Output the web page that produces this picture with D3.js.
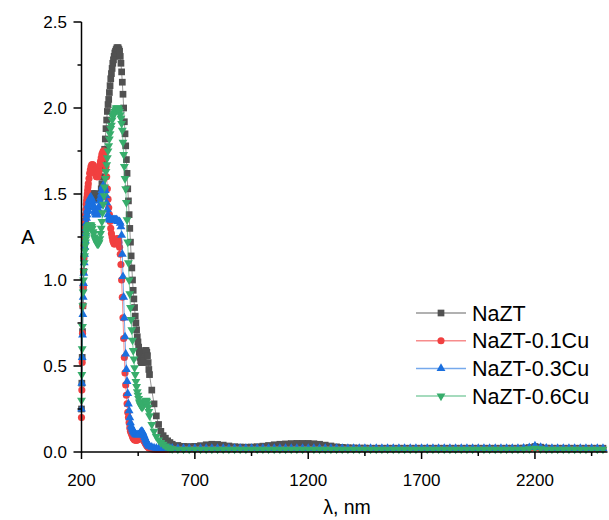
<!DOCTYPE html>
<html><head><meta charset="utf-8">
<script src="https://cdn.jsdelivr.net/npm/d3@7"></script>
<style>body{margin:0;background:#fff}svg{display:block}text{font-family:"Liberation Sans",Arial,sans-serif;fill:#000}</style>
</head><body><svg id="c" width="609" height="520"></svg>
<script>
// x sample grid (nm)
const wavelengths = [...d3.range(200, 230, 1.5), ...d3.range(230, 500, 3), ...d3.range(500, 600, 10), ...d3.range(600, 2501, 25)];
const seriesNames = ["NaZT", "NaZT-0.1Cu", "NaZT-0.3Cu", "NaZT-0.6Cu"];
const seriesColors = ["#515151", "#F14040", "#1A6FDF", "#37AD6B"];
const xTicks = [200, 700, 1200, 1700, 2200];
const yTicks = [0, 0.5, 1.0, 1.5, 2.0, 2.5];

const nazt = [
0.25,0.4,0.55,0.7,0.85,0.96,1.05,1.13,1.2,1.24,
1.28,1.31,1.34,1.36,1.38,1.4,1.41,1.42,1.43,1.44,
1.45,1.46,1.47,1.48,1.49,1.5,1.5,1.5,1.5,1.5,
1.5,1.5,1.49,1.48,1.47,1.47,1.47,1.48,1.5,1.53,
1.56,1.6,1.65,1.7,1.76,1.82,1.88,1.93,1.98,2.02,
2.05,2.09,2.13,2.17,2.2,2.23,2.26,2.28,2.3,2.32,
2.33,2.34,2.35,2.35,2.35,2.34,2.33,2.3,2.26,2.21,
2.15,2.08,2.0,1.92,1.85,1.78,1.7,1.62,1.53,1.46,
1.38,1.3,1.22,1.14,1.07,1.0,0.94,0.89,0.84,0.79,
0.75,0.71,0.67,0.64,0.61,0.58,0.55,0.53,0.52,0.52,
0.53,0.55,0.57,0.58,0.59,0.59,0.58,0.56,0.52,0.48,
0.45,0.36,0.28,0.21,0.16,0.12,0.095,0.08,0.065,0.055,
0.045,0.038,0.033,0.032,0.033,0.037,0.042,0.045,0.044,0.04,
0.035,0.031,0.029,0.028,0.029,0.031,0.034,0.038,0.042,0.045,
0.047,0.049,0.05,0.05,0.05,0.048,0.045,0.04,0.035,0.03,
0.027,0.025,0.024,0.023,0.023,0.022,0.022,0.022,0.022,0.022,
0.022,0.022,0.022,0.022,0.022,0.022,0.022,0.022,0.022,0.022,
0.022,0.022,0.022,0.022,0.022,0.022,0.022,0.022,0.022,0.022,
0.022,0.022,0.023,0.026,0.032,0.028,0.023,0.022,0.022,0.022,
0.022,0.022,0.022,0.022,0.022,0.022,0.022];

const nazt01 = [
0.2,0.36,0.52,0.69,0.85,0.96,1.05,1.13,1.2,1.25,
1.3,1.34,1.38,1.41,1.44,1.46,1.48,1.5,1.52,1.54,
1.56,1.59,1.62,1.64,1.66,1.67,1.67,1.67,1.66,1.64,
1.62,1.61,1.6,1.6,1.6,1.62,1.64,1.67,1.69,1.71,
1.73,1.74,1.75,1.75,1.74,1.71,1.66,1.6,1.53,1.47,
1.42,1.38,1.34,1.3,1.27,1.25,1.23,1.22,1.21,1.21,
1.22,1.23,1.24,1.24,1.24,1.22,1.19,1.15,1.09,1.0,
0.9,0.78,0.66,0.55,0.46,0.39,0.33,0.28,0.23,0.2,
0.17,0.14,0.12,0.11,0.1,0.09,0.08,0.075,0.07,0.07,
0.068,0.068,0.07,0.072,0.075,0.078,0.08,0.082,0.082,0.08,
0.076,0.07,0.064,0.057,0.05,0.043,0.037,0.032,0.028,0.025,
0.022,0.018,0.016,0.015,0.015,0.015,0.015,0.015,0.016,0.017,
0.018,0.017,0.017,0.017,0.017,0.017,0.017,0.017,0.017,0.017,
0.017,0.017,0.017,0.017,0.017,0.017,0.017,0.017,0.017,0.017,
0.017,0.017,0.017,0.017,0.017,0.017,0.017,0.017,0.017,0.017,
0.017,0.017,0.017,0.017,0.017,0.017,0.017,0.017,0.017,0.017,
0.017,0.017,0.017,0.017,0.017,0.017,0.017,0.017,0.017,0.017,
0.017,0.017,0.017,0.017,0.017,0.017,0.017,0.017,0.017,0.017,
0.017,0.017,0.017,0.018,0.022,0.019,0.017,0.017,0.017,0.017,
0.017,0.017,0.017,0.017,0.017,0.017,0.017];

const nazt03 = [
0.25,0.4,0.55,0.68,0.8,0.9,0.98,1.04,1.1,1.15,
1.19,1.23,1.27,1.3,1.33,1.36,1.38,1.4,1.41,1.43,
1.44,1.46,1.47,1.48,1.48,1.47,1.46,1.44,1.42,1.4,
1.39,1.38,1.38,1.38,1.39,1.41,1.43,1.46,1.48,1.5,
1.52,1.54,1.55,1.55,1.54,1.52,1.49,1.45,1.41,1.38,
1.36,1.35,1.35,1.35,1.35,1.35,1.35,1.35,1.35,1.35,
1.35,1.35,1.35,1.34,1.34,1.34,1.34,1.33,1.31,1.26,
1.15,1.02,0.9,0.78,0.67,0.57,0.48,0.41,0.34,0.28,
0.24,0.2,0.17,0.15,0.14,0.13,0.12,0.115,0.11,0.105,
0.1,0.1,0.1,0.1,0.1,0.105,0.11,0.115,0.12,0.12,
0.115,0.105,0.095,0.085,0.075,0.065,0.055,0.048,0.042,0.037,
0.034,0.028,0.024,0.022,0.021,0.021,0.021,0.021,0.021,0.021,
0.022,0.021,0.021,0.021,0.021,0.021,0.021,0.021,0.021,0.021,
0.021,0.021,0.021,0.021,0.021,0.021,0.021,0.021,0.021,0.021,
0.021,0.021,0.021,0.021,0.021,0.021,0.021,0.021,0.021,0.021,
0.021,0.021,0.021,0.021,0.021,0.021,0.021,0.021,0.021,0.021,
0.021,0.021,0.021,0.021,0.021,0.021,0.021,0.021,0.021,0.021,
0.021,0.021,0.021,0.021,0.021,0.021,0.021,0.021,0.021,0.021,
0.021,0.021,0.022,0.026,0.035,0.027,0.022,0.021,0.021,0.021,
0.021,0.021,0.021,0.021,0.021,0.021,0.021];

const nazt06 = [
0.3,0.45,0.6,0.73,0.85,0.93,1.0,1.05,1.1,1.14,
1.17,1.2,1.22,1.24,1.26,1.28,1.29,1.3,1.3,1.31,
1.31,1.32,1.32,1.32,1.32,1.31,1.3,1.28,1.27,1.25,
1.24,1.23,1.22,1.21,1.21,1.21,1.22,1.24,1.27,1.3,
1.34,1.39,1.44,1.49,1.54,1.59,1.63,1.67,1.71,1.75,
1.78,1.82,1.85,1.88,1.9,1.93,1.95,1.96,1.97,1.98,
1.99,2.0,2.0,2.0,2.0,1.99,1.98,1.96,1.94,1.91,
1.87,1.8,1.73,1.66,1.59,1.53,1.45,1.35,1.22,1.1,
1.0,0.92,0.84,0.77,0.71,0.65,0.59,0.54,0.49,0.45,
0.41,0.38,0.35,0.33,0.31,0.29,0.28,0.27,0.265,0.26,
0.265,0.27,0.28,0.29,0.295,0.3,0.295,0.28,0.26,0.235,
0.21,0.16,0.12,0.09,0.07,0.055,0.045,0.035,0.028,0.022,
0.018,0.016,0.016,0.016,0.016,0.016,0.016,0.016,0.016,0.016,
0.016,0.016,0.016,0.016,0.016,0.016,0.016,0.016,0.016,0.016,
0.016,0.016,0.016,0.016,0.016,0.016,0.016,0.016,0.016,0.016,
0.016,0.016,0.016,0.016,0.016,0.016,0.016,0.016,0.016,0.016,
0.016,0.016,0.016,0.016,0.016,0.016,0.016,0.016,0.016,0.016,
0.016,0.016,0.016,0.016,0.016,0.016,0.016,0.016,0.016,0.016,
0.016,0.016,0.016,0.018,0.022,0.018,0.016,0.016,0.016,0.016,
0.016,0.016,0.016,0.016,0.016,0.016,0.016];

const seriesValues = [nazt, nazt01, nazt03, nazt06];
const symbols = [d3.symbolSquare, d3.symbolCircle, d3.symbolTriangle, d3.symbolTriangle];
const symSizes = [45, 40, 34, 34];
const symRot = [0, 0, 0, 180];

const svg = d3.select("#c");
const x = d3.scaleLinear().domain([200, 2520]).range([81.5, 607.5]);
const y = d3.scaleLinear().domain([0, 2.5]).range([452, 22]);

// series
seriesValues.forEach((vals, i) => {
  const pts = wavelengths.map((w, j) => [w, vals[j]]);
  const g = svg.append("g");
  g.append("path").datum(pts)
    .attr("fill", "none").attr("stroke", seriesColors[i]).attr("stroke-opacity", 0.6).attr("stroke-width", 1)
    .attr("d", d3.line().x(d => x(d[0])).y(d => y(d[1])));
  g.selectAll("path.m").data(pts).join("path").attr("class", "m")
    .attr("fill", seriesColors[i])
    .attr("transform", d => `translate(${x(d[0])},${y(d[1])}) rotate(${symRot[i]})`)
    .attr("d", d3.symbol().type(symbols[i]).size(symSizes[i]));
});

// axes
const xAxis = svg.append("g").attr("transform", "translate(0,452)");
xAxis.append("line").attr("x1", 81.5).attr("x2", 607.5).attr("stroke", "#000").attr("stroke-width", 1.5);
const xMinor = xTicks.map(t => t + 250);
xAxis.selectAll("line.maj").data(xTicks).join("line").attr("class", "maj")
  .attr("x1", d => x(d)).attr("x2", d => x(d)).attr("y1", 0).attr("y2", 7).attr("stroke", "#000").attr("stroke-width", 1.5);
xAxis.selectAll("line.min").data(xMinor).join("line").attr("class", "min")
  .attr("x1", d => x(d)).attr("x2", d => x(d)).attr("y1", 0).attr("y2", 4).attr("stroke", "#000").attr("stroke-width", 1.5);
xAxis.selectAll("text").data(xTicks).join("text")
  .attr("x", d => x(d)).attr("y", 34).attr("text-anchor", "middle").attr("font-size", 17).text(d => d);

const yAxis = svg.append("g");
yAxis.append("line").attr("x1", 81.5).attr("x2", 81.5).attr("y1", 22).attr("y2", 452.7).attr("stroke", "#000").attr("stroke-width", 1.5);
const yMinor = yTicks.slice(0, -1).map(t => t + 0.25);
yAxis.selectAll("line.maj").data(yTicks).join("line").attr("class", "maj")
  .attr("x1", 73.5).attr("x2", 81.5).attr("y1", d => y(d)).attr("y2", d => y(d)).attr("stroke", "#000").attr("stroke-width", 1.5);
yAxis.selectAll("line.min").data(yMinor).join("line").attr("class", "min")
  .attr("x1", 77.5).attr("x2", 81.5).attr("y1", d => y(d)).attr("y2", d => y(d)).attr("stroke", "#000").attr("stroke-width", 1.5);
yAxis.selectAll("text").data(yTicks).join("text")
  .attr("x", 67).attr("y", d => y(d) + 6).attr("text-anchor", "end").attr("font-size", 17).text(d => d.toFixed(1));

svg.append("text").attr("x", 347).attr("y", 514).attr("text-anchor", "middle").attr("font-size", 19.5).text("λ, nm");
svg.append("text").attr("x", 28).attr("y", 244).attr("text-anchor", "middle").attr("font-size", 20).text("A");

// legend
const leg = svg.append("g");
seriesNames.forEach((n, i) => {
  const yy = 313 + i * 27.7;
  leg.append("line").attr("x1", 416).attr("x2", 466).attr("y1", yy).attr("y2", yy)
    .attr("stroke", seriesColors[i]).attr("stroke-opacity", 0.6).attr("stroke-width", 1.5);
  leg.append("path").attr("fill", seriesColors[i])
    .attr("transform", `translate(441,${yy}) rotate(${symRot[i]})`)
    .attr("d", d3.symbol().type(symbols[i]).size(symSizes[i]));
  leg.append("text").attr("x", 472).attr("y", yy + 7.5).attr("font-size", 21.5).text(n);
});
</script></body></html>
